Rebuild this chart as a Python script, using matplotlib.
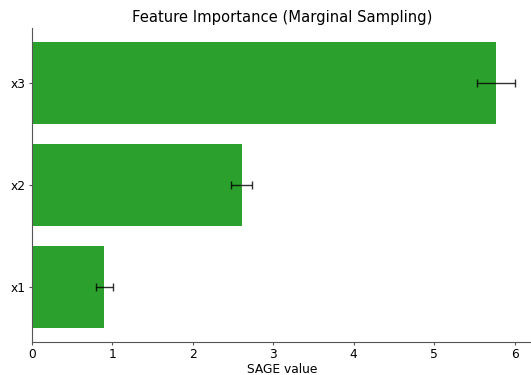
import matplotlib
matplotlib.use("Agg")
import matplotlib.pyplot as plt
import numpy as np

features = ['x1', 'x2', 'x3']
values = [0.90, 2.61, 5.77]
errors = [0.11, 0.13, 0.24]

fig = plt.figure(figsize=(5.31, 3.75), dpi=100)
ax = fig.add_axes([32 / 531, 33 / 375, 501 / 531, 314 / 375])

y = np.arange(len(features))
ax.barh(y, values, height=0.8, color='tab:green',
        xerr=errors, capsize=3,
        error_kw={'ecolor': 'black', 'elinewidth': 1, 'capthick': 1, 'alpha': 0.8})

ax.set_yticks(y)
ax.set_yticklabels(features)
ax.set_xlim(0, 6.23)
ax.set_xticks(range(0, 7))
ax.tick_params(labelsize=8.8, length=2.5, pad=2, color='#555555')
ax.set_xlabel('SAGE value', fontsize=8.8, labelpad=1)
ax.set_title('Feature Importance (Marginal Sampling)', fontsize=10.6, pad=4)

for s in ['left', 'bottom']:
    ax.spines[s].set_color('#555555')
ax.spines['top'].set_visible(False)
ax.spines['right'].set_visible(False)

fig.savefig('out.png', dpi=100)
